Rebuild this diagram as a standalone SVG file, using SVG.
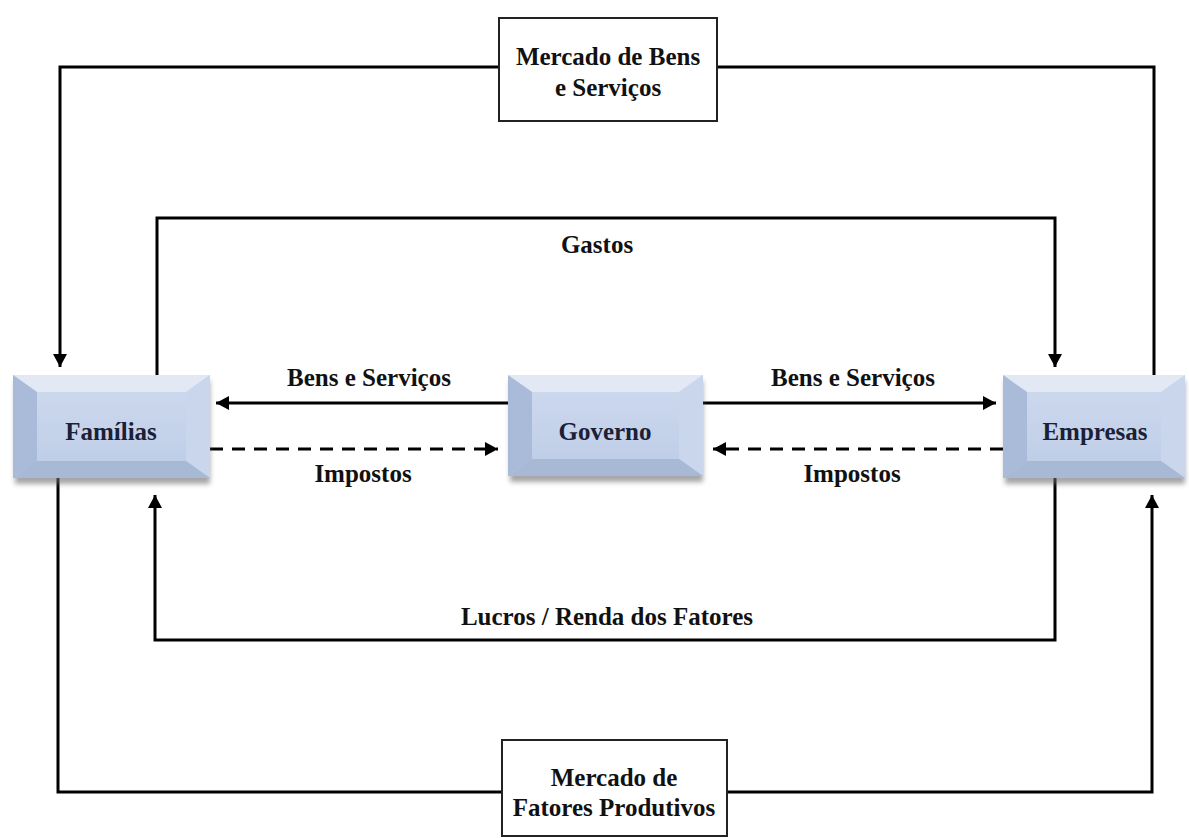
<svg xmlns="http://www.w3.org/2000/svg" width="1189" height="838" viewBox="0 0 1189 838">
  <style>
    .lbl { font-family: "Liberation Serif", "Times New Roman", serif; font-weight: bold; font-size: 25px; fill: #111; text-anchor: middle; }
    .nodeText { font-family: "Liberation Serif", "Times New Roman", serif; font-weight: bold; font-size: 25px; fill: #1c1f38; text-anchor: middle; }
    .wire { fill: none; stroke: #000; stroke-width: 3; }
    .dash { stroke-dasharray: 13 9; }
    .market { fill: #fff; stroke: #222; stroke-width: 2; }
    .face { fill: url(#faceGrad); }
    .bTop { fill: #e2e9f5; }
    .bLeft { fill: #a9bbd8; }
    .bRight { fill: #c9d6eb; }
    .bBottom { fill: #a8b9d6; }
    .shadow { fill: #6a6a6a; opacity: 0.6; filter: url(#blur); }
  </style>
  <defs>
    <linearGradient id="faceGrad" x1="0" y1="0" x2="0" y2="1">
      <stop offset="0" stop-color="#cfdaef"/>
      <stop offset="1" stop-color="#bccce6"/>
    </linearGradient>
    <filter id="blur" x="-10%" y="-10%" width="120%" height="130%">
      <feGaussianBlur stdDeviation="2.5"/>
    </filter>
    <marker id="arrow" markerUnits="userSpaceOnUse" markerWidth="14" markerHeight="14" refX="13" refY="7" orient="auto">
      <path d="M0,0 L13,7 L0,14 z" fill="#000"/>
    </marker>
  </defs>

  <rect width="1189" height="838" fill="#fff"/>

  <!-- connectors -->
  <g id="connectors">
    <!-- outer loop via Mercado de Bens e Serviços -->
    <path class="wire" d="M1154,375 V67 H717"/>
    <path class="wire" d="M499,67 H60 V367" marker-end="url(#arrow)"/>
    <!-- Gastos loop -->
    <path class="wire" d="M157,375 V218 H1055 V367" marker-end="url(#arrow)"/>
    <!-- Governo flows -->
    <path class="wire" d="M508,403 H216" marker-end="url(#arrow)"/>
    <path class="wire dash" d="M210,449 H498" marker-end="url(#arrow)"/>
    <path class="wire" d="M703,403 H996" marker-end="url(#arrow)"/>
    <path class="wire dash" d="M1003,449 H713" marker-end="url(#arrow)"/>
    <!-- Lucros / Renda dos Fatores loop -->
    <path class="wire" d="M1055,478 V640 H155 V495" marker-end="url(#arrow)"/>
    <!-- outer loop via Mercado de Fatores Produtivos -->
    <path class="wire" d="M58,478 V792 H502"/>
    <path class="wire" d="M727,792 H1152 V495" marker-end="url(#arrow)"/>
  </g>

  <!-- flow labels -->
  <g id="labels">
    <text class="lbl" x="597" y="253">Gastos</text>
    <text class="lbl" x="369" y="386">Bens e Serviços</text>
    <text class="lbl" x="853" y="386">Bens e Serviços</text>
    <text class="lbl" x="363" y="482">Impostos</text>
    <text class="lbl" x="852" y="482">Impostos</text>
    <text class="lbl" x="607" y="625">Lucros / Renda dos Fatores</text>
  </g>

  <!-- market boxes -->
  <g id="mercado-bens">
    <rect class="market" x="499" y="18" width="218" height="103"/>
    <text class="lbl" x="608" y="65">Mercado de Bens</text>
    <text class="lbl" x="608" y="96">e Serviços</text>
  </g>
  <g id="mercado-fatores">
    <rect class="market" x="502" y="740" width="225" height="96"/>
    <text class="lbl" x="614" y="786">Mercado de</text>
    <text class="lbl" x="614" y="816">Fatores Produtivos</text>
  </g>

  <!-- bevelled agent boxes -->
  <g id="familias">
    <rect class="shadow" x="15" y="381" width="195" height="103"/>
    <rect class="face" x="13" y="375" width="197" height="103"/>
    <polygon class="bTop" points="13,375 210,375 186,392 37,392"/>
    <polygon class="bLeft" points="13,375 37,392 37,461 13,478"/>
    <polygon class="bRight" points="210,375 210,478 186,461 186,392"/>
    <polygon class="bBottom" points="13,478 37,461 186,461 210,478"/>
    <text class="nodeText" x="111" y="440">Famílias</text>
  </g>
  <g id="governo">
    <rect class="shadow" x="510" y="381" width="193" height="101"/>
    <rect class="face" x="508" y="375" width="195" height="101"/>
    <polygon class="bTop" points="508,375 703,375 679,392 532,392"/>
    <polygon class="bLeft" points="508,375 532,392 532,459 508,476"/>
    <polygon class="bRight" points="703,375 703,476 679,459 679,392"/>
    <polygon class="bBottom" points="508,476 532,459 679,459 703,476"/>
    <text class="nodeText" x="605" y="440">Governo</text>
  </g>
  <g id="empresas">
    <rect class="shadow" x="1005" y="381" width="180" height="103"/>
    <rect class="face" x="1003" y="375" width="182" height="103"/>
    <polygon class="bTop" points="1003,375 1185,375 1161,392 1027,392"/>
    <polygon class="bLeft" points="1003,375 1027,392 1027,461 1003,478"/>
    <polygon class="bRight" points="1185,375 1185,478 1161,461 1161,392"/>
    <polygon class="bBottom" points="1003,478 1027,461 1161,461 1185,478"/>
    <text class="nodeText" x="1095" y="440">Empresas</text>
  </g>
</svg>
